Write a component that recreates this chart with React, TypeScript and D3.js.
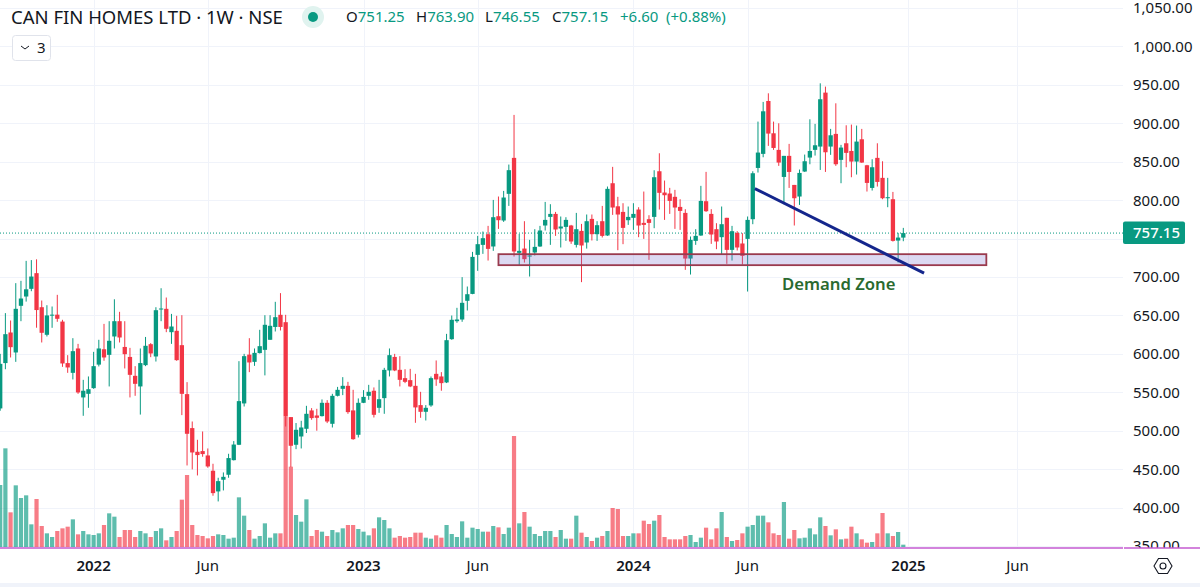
import React, { useEffect, useRef } from 'react';
import * as d3 from 'd3';

const opens = [
  529, 588, 627.8, 601.8, 662.5, 674.6, 684.6, 705, 660.7, 624.8,
  650, 651, 642, 588, 575.3, 607, 543.3, 548, 555.4, 586,
  606, 598.7, 622.6, 642.5, 609, 596, 571.4, 557.6, 585.3, 612.6,
  596.6, 657.7, 658.6, 628.2, 630, 611.3, 547.6, 503.4, 472.6, 473.5,
  467.8, 447.9, 421, 436.2, 442.7, 461.7, 481.7, 535.5, 599, 589.6,
  601, 605.2, 618.3, 635, 650.8, 641.2, 517.7, 481.7, 492.5, 502.5,
  526.4, 519.8, 519, 536.3, 509, 545.4, 554.5, 558.4, 526.4, 494.7,
  536.3, 545.4, 552, 529.8, 542.4, 578.4, 596, 579.2, 568.4, 565.8,
  558.4, 533.3, 524.6, 532.9, 574, 570.6, 562.8, 619.1, 642.5, 644.7,
  669, 678, 728.8, 741.8, 755.7, 739.7, 779.1, 773.5, 808.2, 855,
  731.4, 737, 726.6, 731.9, 739.7, 767, 778.2, 782.1, 763.1, 765.2,
  767, 741.8, 760, 744.9, 775.6, 755.7, 772.6, 754, 822, 792,
  784.7, 773.9, 777, 787.8, 770.4, 775.2, 778.2, 837.6, 809.9, 808.6,
  804.3, 791.2, 783.4, 724, 747, 754, 798.6, 782.1, 762.2, 751.8,
  777, 735.3, 757.4, 743.6, 749.6, 775.2, 841.9, 860.2, 929, 887,
  865.4, 830.2, 857.6, 819.8, 804.7, 837.2, 855.4, 865.4, 869.7, 939.9,
  869.7, 886.2, 852.4, 874, 864, 850.2, 879.2, 845.4, 815.9, 855,
  829, 802.5, 801.2, 747.4, 751.25,
];

const closes = [
  587, 625.6, 608.7, 658.6, 672, 684, 700.6, 657, 627.4, 650,
  651, 645.6, 587.5, 582.3, 603.5, 549.8, 552, 554, 584, 607,
  595.3, 617, 642.5, 621.3, 599.6, 572.7, 561, 588, 610.5, 600.5,
  656.8, 659, 632.6, 635.6, 591.8, 548, 496, 471.7, 468.3, 469.6,
  453.5, 418.8, 434.4, 440, 464.4, 482, 538.5, 597, 588.8, 601.3,
  610, 637.8, 636.5, 647.7, 635, 518.5, 480.4, 501.2, 504.2, 522,
  516.4, 516.8, 536.3, 512, 545.4, 553.2, 558.4, 524.2, 489, 536.3,
  544, 550.6, 520.7, 541, 579.2, 598.3, 578.4, 566.2, 563.6, 557.6,
  530.3, 524.6, 529.8, 568.4, 566.7, 561.9, 617.8, 644.3, 644.7, 666.4,
  677.6, 726.2, 742.7, 750.5, 736.6, 777.8, 773.9, 803.4, 839, 733.2,
  734, 723.2, 728, 739.2, 760.5, 774.3, 782.1, 761.8, 765.7, 774.3,
  746.2, 762.2, 741, 772.6, 755.7, 767.4, 753.5, 814.7, 790.4, 781.3,
  763.9, 778.2, 782.1, 767, 767.8, 770.4, 829.8, 809.5, 806.4, 799,
  790.4, 786, 724, 748.3, 753.5, 799, 785.6, 755.3, 746.2, 768.7,
  735.3, 759.6, 738.4, 727.5, 774.3, 835, 861.9, 915.6, 886.6, 867.9,
  848.9, 857.6, 836.7, 802.5, 835.4, 850.6, 864, 871.4, 931.3, 862.3,
  884.4, 846.7, 868.4, 861.5, 850.2, 876.2, 848.9, 822.4, 842.8, 823.7,
  802.5, 803.8, 747, 751.3, 757.15,
];

const highs = [
  600, 653, 643.4, 692, 695, 721, 722, 723, 669.4, 663.3,
  661.6, 676.8, 644.3, 598.3, 620.4, 613, 566.2, 570.6, 602.6, 618.3,
  639, 642.5, 671, 654.7, 642.5, 607.8, 584, 607, 622, 614,
  660.7, 685.4, 673.3, 652, 649.5, 650.3, 563.2, 512, 488.2, 499,
  476.9, 457, 438.8, 445.7, 470, 486.5, 590.5, 600, 620.4, 607,
  631.3, 650.3, 650.3, 667.7, 679, 650.8, 517.7, 510, 512.9, 532.4,
  529.4, 528.5, 540.7, 539.8, 548, 557, 569.7, 563.6, 553.2, 542,
  552.8, 559.7, 556.3, 566.2, 581.8, 607, 600, 597, 580, 580.5,
  574, 550.6, 533.3, 570.6, 591.4, 576.2, 626, 649.9, 659.9, 699.8,
  687.6, 732.7, 753.5, 759.2, 766.5, 800.3, 804.7, 812, 846.3, 910.9,
  756.1, 772.6, 748.3, 762.2, 766.5, 797.7, 794.7, 784.7, 778.7, 777.8,
  767.8, 783.4, 769.1, 781.3, 781.3, 772.6, 792.5, 817.7, 843.3, 804.3,
  796, 791.7, 796, 790.8, 811.2, 780.4, 838.9, 861, 825.5, 816,
  813.4, 801.2, 788.2, 752.7, 762.2, 818.6, 836.8, 788.2, 770, 791.7,
  777, 766.5, 759.6, 757, 778.7, 837.6, 902.2, 927.8, 939, 902.2,
  900, 857.6, 873.2, 819.8, 839.8, 859.3, 905.2, 899.2, 952, 947.7,
  892.7, 926, 871.9, 897.4, 898.3, 897, 892.7, 845.9, 853.2, 874,
  850.6, 829, 810.7, 757.4, 763.9,
];

const lows = [
  526, 580, 595.3, 589.6, 642.5, 668, 681.5, 634, 614.8, 622.6,
  633.9, 641.7, 583.1, 575.3, 566.7, 548, 519.4, 529.8, 554.5, 583.6,
  591, 557.6, 607, 614.8, 581, 543.3, 545.4, 521, 584, 595.7,
  590, 642.5, 628.2, 613, 591, 520.3, 454.8, 449.6, 441.8, 466.1,
  451.8, 415.4, 408, 422.3, 438.8, 461.3, 481.3, 531.5, 576.2, 584.4,
  600.5, 572, 618.3, 629.1, 630.4, 505.5, 452.7, 476, 476.9, 497,
  514.2, 500, 518.5, 509.9, 504.2, 544.6, 546.3, 522, 488.2, 491.2,
  535.9, 540.2, 517.2, 523.3, 522, 570.6, 577.5, 557.6, 561.9, 556.7,
  510.3, 516.8, 513.3, 531.1, 558.4, 552, 562, 618.3, 640.4, 641.7,
  656.4, 677.6, 708, 730.1, 721.4, 734, 762.6, 771.7, 792.5, 726.6,
  715.8, 718.8, 700.6, 728, 739.2, 760.5, 741.8, 753.5, 738.4, 747,
  743.1, 738.4, 693.3, 737, 747.5, 747, 751.4, 753.5, 780.8, 734.9,
  742.7, 767.8, 761.3, 751.8, 749.6, 722.3, 763.5, 787.8, 774.3, 782.1,
  762.6, 761.3, 709.3, 703.2, 741.8, 753.5, 784.7, 743.1, 736.2, 728.8,
  717.1, 721.4, 734.5, 716.2, 681.1, 768.7, 835.9, 855.8, 870.6, 865.4,
  844.6, 794.7, 815.9, 767, 793.8, 836.7, 846.7, 858, 839.3, 836.7,
  858.9, 844.6, 822, 842.8, 829.8, 833.3, 848.5, 811.2, 812.5, 817.7,
  801.2, 790.8, 746.1, 718.8, 746.55,
];

const volumes = [
  186, 296, 104, 185, 147, 155, 68, 144, 63, 41,
  30, 48, 56, 61, 83, 38, 48, 38, 36, 41,
  66, 101, 91, 30, 51, 51, 30, 48, 41, 30,
  48, 56, 20, 30, 48, 142, 216, 66, 36, 33,
  26, 33, 38, 36, 25, 28, 149, 94, 51, 25,
  33, 71, 28, 41, 41, 391, 241, 96, 76, 143,
  33, 51, 46, 33, 51, 44, 56, 66, 66, 54,
  46, 35, 56, 89, 81, 56, 28, 33, 28, 30,
  43, 43, 28, 25, 35, 28, 66, 39, 30, 77,
  28, 58, 54, 46, 46, 63, 59, 39, 58, 333,
  71, 105, 61, 39, 33, 48, 48, 30, 51, 25,
  25, 94, 43, 30, 18, 28, 33, 48, 117, 114,
  33, 33, 41, 41, 79, 69, 79, 96, 30, 23,
  23, 23, 33, 36, 15, 28, 58, 23, 56, 105,
  30, 18, 21, 41, 61, 66, 94, 94, 74, 41,
  36, 135, 25, 51, 26, 28, 56, 38, 89, 63,
  35, 53, 23, 25, 61, 41, 23, 13, 15, 41,
  102, 41, 33, 45, 7,
];

const priceTicks = [350, 400, 450, 500, 550, 600, 650, 700, 750, 800, 850, 900, 950, 1000, 1050];
const timeTickWeeks = [18, 40, 70, 92, 122, 144, 175, 196];
const timeTickLabels = ['2022', 'Jun', '2023', 'Jun', '2024', 'Jun', '2025', 'Jun'];

const lastPrice = 757.15;
const zoneWeeks = [96, 190];
const zonePrices = [729.7, 715.4];
const trendWeeks = [145.4, 178];
const trendPrices = [815, 705];

const WIDTH = 1200;
const HEIGHT = 587;
const PLOT_RIGHT = 1123;
const PLOT_BOTTOM = 548;
const FONT = '"Noto Sans", sans-serif';
const INK = '#131722';
const UP = '#089981';
const DOWN = '#F23645';

const App: React.FC = () => {
  const svgRef = useRef<SVGSVGElement | null>(null);

  useEffect(() => {
    const svg = d3.select(svgRef.current);
    svg.selectAll('*').remove();

    const x = d3.scaleLinear().domain([0, 174]).range([0.2, 903.3]);
    const y = d3.scaleLinear().domain([350, 1050]).range([546, 8]);
    const yVol = d3.scaleLinear().domain([0, 333]).range([547, 436]);

    svg.append('rect').attr('width', WIDTH).attr('height', HEIGHT).attr('fill', '#fff');

    svg.append('defs').append('clipPath').attr('id', 'plot')
      .append('rect').attr('width', PLOT_RIGHT).attr('height', PLOT_BOTTOM);

    const plot = svg.append('g').attr('clip-path', 'url(#plot)');

    // grid
    plot.selectAll('line.h').data(priceTicks).join('line')
      .attr('class', 'h')
      .attr('x1', 0).attr('x2', PLOT_RIGHT)
      .attr('y1', d => Math.round(y(d)) + 0.5).attr('y2', d => Math.round(y(d)) + 0.5)
      .attr('stroke', '#f0f3fa');
    plot.selectAll('line.v').data(timeTickWeeks).join('line')
      .attr('class', 'v')
      .attr('x1', d => Math.round(x(d)) + 0.5).attr('x2', d => Math.round(x(d)) + 0.5)
      .attr('y1', 0).attr('y2', PLOT_BOTTOM)
      .attr('stroke', '#f0f3fa');

    const weeks = d3.range(opens.length);
    const isUp = (i: number) => closes[i] >= opens[i];

    // volume
    plot.selectAll('rect.vol').data(weeks).join('rect')
      .attr('class', 'vol')
      .attr('x', i => x(i) - 2.1)
      .attr('width', 4.2)
      .attr('y', i => yVol(volumes[i]))
      .attr('height', i => yVol(0) - yVol(volumes[i]))
      .attr('fill', i => (isUp(i) ? UP : DOWN))
      .attr('fill-opacity', 0.65);

    // last price line
    plot.append('line')
      .attr('x1', 0).attr('x2', PLOT_RIGHT)
      .attr('y1', y(lastPrice)).attr('y2', y(lastPrice))
      .attr('stroke', UP).attr('stroke-dasharray', '1 2');

    // candles
    plot.selectAll('line.wick').data(weeks).join('line')
      .attr('class', 'wick')
      .attr('x1', i => x(i)).attr('x2', i => x(i))
      .attr('y1', i => y(highs[i])).attr('y2', i => y(lows[i]))
      .attr('stroke', i => (isUp(i) ? UP : DOWN));
    plot.selectAll('rect.body').data(weeks).join('rect')
      .attr('class', 'body')
      .attr('x', i => x(i) - 2.15)
      .attr('width', 4.3)
      .attr('y', i => y(Math.max(opens[i], closes[i])))
      .attr('height', i => Math.max(1, Math.abs(y(opens[i]) - y(closes[i]))))
      .attr('fill', i => (isUp(i) ? UP : DOWN));

    // demand zone and trend line
    plot.append('rect')
      .attr('x', x(zoneWeeks[0]))
      .attr('width', x(zoneWeeks[1]) - x(zoneWeeks[0]))
      .attr('y', y(zonePrices[0]))
      .attr('height', y(zonePrices[1]) - y(zonePrices[0]))
      .attr('fill', '#7e72d0').attr('fill-opacity', 0.27)
      .attr('stroke', '#9a3a4e').attr('stroke-width', 1.8);
    plot.append('path')
      .attr('d', d3.line<number>().x(w => x(w)).y((_, i) => y(trendPrices[i]))(trendWeeks))
      .attr('fill', 'none').attr('stroke', '#14268c').attr('stroke-width', 3);
    plot.append('text')
      .attr('x', 782).attr('y', 290)
      .attr('font-family', FONT).attr('font-size', 16.7).attr('font-weight', 600)
      .attr('fill', '#2a6a2f')
      .text('Demand Zone');

    // price axis, the label under the last price tag is not drawn
    svg.selectAll('text.price').data(priceTicks.filter(d => Math.abs(d - lastPrice) > 20)).join('text')
      .attr('class', 'price')
      .attr('x', 1133).attr('y', d => y(d)).attr('dy', '0.36em')
      .attr('font-family', FONT).attr('font-size', 15).attr('fill', INK)
      .text(d => d3.format(',.2f')(d));

    // last price tag
    svg.append('rect')
      .attr('x', 1123).attr('y', 221.5).attr('width', 62).attr('height', 22.5).attr('rx', 2)
      .attr('fill', UP);
    svg.append('text')
      .attr('x', 1133).attr('y', y(lastPrice)).attr('dy', '0.36em')
      .attr('font-family', FONT).attr('font-size', 15).attr('font-weight', 500).attr('fill', '#fff')
      .text(d3.format('.2f')(lastPrice));

    // time axis
    svg.append('rect').attr('y', PLOT_BOTTOM).attr('width', WIDTH).attr('height', HEIGHT - PLOT_BOTTOM).attr('fill', '#fff');
    svg.append('rect').attr('y', 583).attr('width', WIDTH).attr('height', 4).attr('fill', '#f0f3fa');
    svg.append('line')
      .attr('x1', 0).attr('x2', PLOT_RIGHT).attr('y1', PLOT_BOTTOM).attr('y2', PLOT_BOTTOM)
      .attr('stroke', '#c45ad0').attr('stroke-width', 1.5);
    svg.append('line')
      .attr('x1', 1124).attr('x2', WIDTH).attr('y1', PLOT_BOTTOM).attr('y2', PLOT_BOTTOM)
      .attr('stroke', '#c45ad0').attr('stroke-width', 1.5);
    svg.selectAll('text.time').data(timeTickWeeks).join('text')
      .attr('class', 'time')
      .attr('x', d => x(d)).attr('y', 566).attr('dy', '0.36em')
      .attr('text-anchor', 'middle')
      .attr('font-family', FONT).attr('font-size', 15)
      .attr('font-weight', (_, i) => (timeTickLabels[i] === 'Jun' ? 400 : 600))
      .attr('fill', INK)
      .text((_, i) => timeTickLabels[i]);

    // settings icon
    const hex = svg.append('g').attr('transform', 'translate(1163,566)');
    hex.append('path')
      .attr('d', 'M-9 0L-4.5-7.5H4.5L9 0L4.5 7.5H-4.5Z')
      .attr('fill', 'none').attr('stroke', INK).attr('stroke-width', 1.1);
    hex.append('circle').attr('r', 3).attr('fill', 'none').attr('stroke', INK).attr('stroke-width', 1.1);

    // header
    svg.append('text')
      .attr('x', 11).attr('y', 17).attr('dy', '0.36em')
      .attr('font-family', FONT).attr('font-size', 18.5).attr('fill', INK)
      .text('CAN FIN HOMES LTD · 1W · NSE');
    svg.append('circle').attr('cx', 313).attr('cy', 17).attr('r', 11).attr('fill', '#e0f3ef');
    svg.append('circle').attr('cx', 313).attr('cy', 17).attr('r', 5).attr('fill', UP);

    const legend = [
      { x: 346, k: 'O', v: '751.25' },
      { x: 416, k: 'H', v: '763.90' },
      { x: 485, k: 'L', v: '746.55' },
      { x: 552, k: 'C', v: '757.15' },
      { x: 620, k: '', v: '+6.60' },
      { x: 666, k: '', v: '(+0.88%)' },
    ];
    const legendText = svg.selectAll('text.ohlc').data(legend).join('text')
      .attr('class', 'ohlc')
      .attr('x', d => d.x).attr('y', 17).attr('dy', '0.36em')
      .attr('font-family', FONT).attr('font-size', 15);
    legendText.append('tspan').attr('fill', INK).text(d => d.k);
    legendText.append('tspan').attr('fill', UP).text(d => d.v);

    // collapsed indicators button
    svg.append('rect')
      .attr('x', 12.5).attr('y', 35.5).attr('width', 38).attr('height', 25).attr('rx', 3)
      .attr('fill', '#fff').attr('stroke', '#e0e3eb');
    svg.append('path')
      .attr('d', 'M21 46L25 49L29 46')
      .attr('fill', 'none').attr('stroke', INK).attr('stroke-width', 1);
    svg.append('text')
      .attr('x', 37).attr('y', 48).attr('dy', '0.36em')
      .attr('font-family', FONT).attr('font-size', 15).attr('fill', INK)
      .text('3');
  }, []);

  return (
    <svg
      ref={svgRef}
      width={WIDTH}
      height={HEIGHT}
      style={{ position: 'absolute', left: 0, top: 0, display: 'block' }}
    />
  );
};

export default App;
